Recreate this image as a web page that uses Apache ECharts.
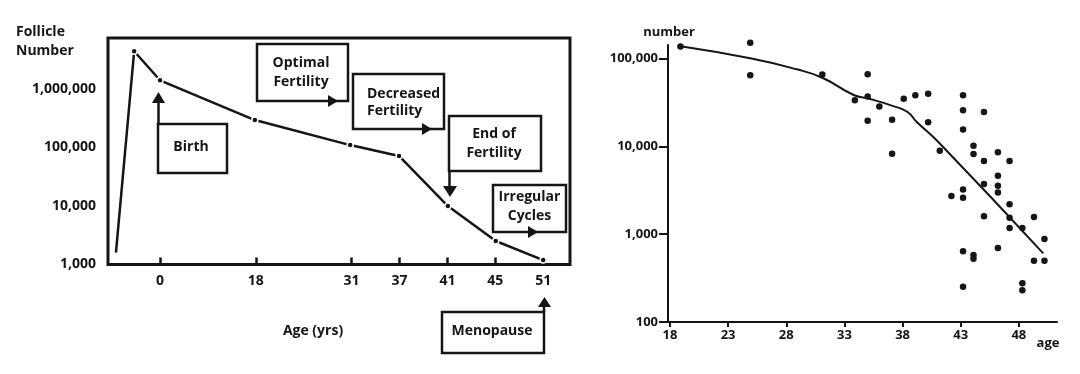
<!DOCTYPE html>
<html>
<head>
<meta charset="utf-8">
<script src="https://cdn.jsdelivr.net/npm/echarts@6/dist/echarts.min.js"></script>
<style>html,body{margin:0;padding:0;background:#fff}#c{width:1080px;height:374px}</style>
</head>
<body>
<div id="c"></div>
<script>
// ---- Left panel: follicle number across life (schematic age axis) ----
const leftTickPos = [0, 2, 4, 5, 6, 7, 8];
const leftTickLabels = ['0', '18', '31', '37', '41', '45', '51'];
const follicleX = [-0.92, -0.54, 0, 1.98, 3.97, 4.99, 6.01, 7.01, 8.0];
const follicleY = [1600, 4420000, 1410000, 295000, 110000, 71600, 10000, 2520, 1190];
const leftYTicks = [1000, 10000, 100000, 1000000];

// ---- Right panel: follicle count vs age (scatter + fitted curve) ----
const scatterAge = [18.9, 24.9, 24.9, 31.1, 33.9, 35.0, 35.0, 35.0, 36.0, 37.1, 37.1,
  38.1, 39.1, 40.2, 40.2, 41.2, 42.2, 43.2, 43.2, 43.2, 43.2, 43.2, 43.2, 43.2,
  44.1, 44.1, 44.1, 44.1, 45.0, 45.0, 45.0, 45.0, 46.2, 46.2, 46.2, 46.2, 46.2,
  47.2, 47.2, 47.2, 47.2, 48.3, 48.3, 48.3, 49.3, 49.3, 50.2, 50.2];
const scatterCount = [137000, 151700, 64600, 65900, 33500, 66200, 37000, 19600, 28400, 20100, 8260,
  34900, 38200, 39800, 18900, 8910, 2720, 38200, 25800, 15600, 3240, 2600, 638, 252,
  10200, 8190, 580, 526, 24700, 6830, 3730, 1600, 8570, 4640, 3570, 2980, 697,
  6830, 2190, 1540, 1180, 1180, 276, 230, 1570, 499, 881, 499];
const fitAge = [18.9, 24.9, 28.9, 31.1, 33.8, 35.0, 37.2, 38.4, 39.2, 41.2, 50.1];
const fitCount = [138000, 100700, 75500, 60500, 38500, 35300, 28800, 24800, 19100, 10800, 605];
const rightXTicks = [18, 23, 28, 33, 38, 43, 48];
const rightYTicks = [100, 1000, 10000, 100000];

const FONT = '"Open Sans", "DejaVu Sans", sans-serif';
const INK = '#151515';
const fmt = v => String(Math.round(v)).replace(/\B(?=(\d{3})+(?!\d))/g, ',');

const chart = echarts.init(document.getElementById('c'), null, {renderer: 'canvas'});

function box(x, y, w, h) {
  return {type: 'rect', z: 50, shape: {x, y, width: w, height: h},
    style: {fill: '#fff', stroke: INK, lineWidth: 2.5}};
}
function txt(t, x, y, align, size) {
  return {type: 'text', z: 60, style: {text: t, x, y, align: align || 'center', verticalAlign: 'middle',
    font: 'bold ' + (size || 14) + 'px ' + FONT, fill: INK}};
}
function tri(points) {
  return {type: 'polygon', z: 61, shape: {points}, style: {fill: INK}};
}
function seg(x1, y1, x2, y2) {
  return {type: 'line', z: 61, shape: {x1, y1, x2, y2}, style: {stroke: INK, lineWidth: 2.5}};
}

const leftData = follicleX.map((x, i) => ({
  value: [x, follicleY[i]],
  symbol: i === 0 ? 'none' : 'circle'
}));

const option = {
  animation: false,
  backgroundColor: '#fff',
  grid: [
    {left: 108, top: 38, width: 462, height: 226.5, show: true, borderColor: INK, borderWidth: 3, backgroundColor: 'transparent'},
    {left: 668, top: 45, width: 389, height: 277}
  ],
  xAxis: [
    {gridIndex: 0, type: 'value', min: -1.086, max: 8.56,
      axisLine: {show: false}, splitLine: {show: false},
      axisTick: {show: true, inside: true, length: 7, lineStyle: {color: INK, width: 2.5}, customValues: leftTickPos},
      axisLabel: {customValues: leftTickPos, margin: 10, color: INK, fontFamily: FONT, fontWeight: 'bold', fontSize: 14,
        formatter: v => leftTickLabels[leftTickPos.indexOf(Math.round(v))] || ''}},
    {gridIndex: 1, type: 'value', min: 17.83, max: 51.28,
      axisLine: {show: true, onZero: false, lineStyle: {color: INK, width: 2}}, splitLine: {show: false},
      axisTick: {show: true, length: 5, lineStyle: {color: INK, width: 2}, customValues: rightXTicks},
      axisLabel: {customValues: rightXTicks, margin: 7, color: INK, fontFamily: FONT, fontWeight: 'bold', fontSize: 13}}
  ],
  yAxis: [
    {gridIndex: 0, type: 'log', min: 1000, max: 7450000,
      axisLine: {show: false}, axisTick: {show: false}, splitLine: {show: false},
      axisLabel: {customValues: leftYTicks, margin: 12, color: INK, fontFamily: FONT, fontWeight: 'bold', fontSize: 14, formatter: fmt}},
    {gridIndex: 1, type: 'log', min: 100, max: 142900,
      axisLine: {show: true, onZero: false, lineStyle: {color: INK, width: 2}}, splitLine: {show: false},
      axisTick: {show: true, length: 9, lineStyle: {color: INK, width: 2}, customValues: rightYTicks},
      axisLabel: {customValues: rightYTicks, margin: 10, color: INK, fontFamily: FONT, fontWeight: 'bold', fontSize: 13, formatter: fmt}}
  ],
  series: [
    {type: 'line', xAxisIndex: 0, yAxisIndex: 0, data: leftData, symbolSize: 6,
      lineStyle: {color: INK, width: 2.5}, itemStyle: {color: INK, borderColor: '#fff', borderWidth: 1.5}, z: 3},
    {type: 'line', xAxisIndex: 1, yAxisIndex: 1, data: fitAge.map((a, i) => [a, fitCount[i]]),
      showSymbol: false, smooth: 0.5, lineStyle: {color: INK, width: 2}, z: 2},
    {type: 'scatter', xAxisIndex: 1, yAxisIndex: 1, data: scatterAge.map((a, i) => [a, scatterCount[i]]),
      clip: false, symbolSize: 6.5, itemStyle: {color: INK, opacity: 1}, z: 3}
  ],
  graphic: [
    txt('Follicle', 16, 32, 'left', 14),
    txt('Number', 16, 51, 'left', 14),
    txt('Age (yrs)', 313, 331, 'center', 14),
    // Optimal Fertility
    box(257, 44, 91, 57), txt('Optimal', 301, 63), txt('Fertility', 301, 82),
    tri([[328, 95], [338, 101], [328, 107]]),
    // Decreased Fertility
    box(353, 74, 91, 55), txt('Decreased', 367, 94, 'left'), txt('Fertility', 367, 111, 'left'),
    tri([[422, 123], [432, 129], [422, 135]]),
    // End of Fertility
    box(449, 116, 92, 55), txt('End of', 494, 134), txt('Fertility', 494, 153),
    seg(449.5, 171, 449.5, 188), tri([[443, 186], [457, 186], [450, 197]]),
    // Irregular Cycles
    box(493, 185, 73, 47), txt('Irregular', 529.5, 197), txt('Cycles', 529.5, 216),
    tri([[528, 226], [538, 232], [528, 238]]),
    // Birth
    box(158, 124, 69, 49), txt('Birth', 191, 147),
    seg(158.5, 124, 158.5, 102), tri([[152, 103], [165, 103], [158.5, 92]]),
    // Menopause
    box(442, 312, 102, 41), txt('Menopause', 492, 331),
    seg(544, 312, 544, 305), tri([[538, 307], [551, 307], [544.5, 297]]),
    // right panel labels
    txt('number', 669, 32, 'center', 13),
    txt('age', 1048, 343, 'center', 13)
  ]
};
chart.setOption(option);
</script>
</body>
</html>
